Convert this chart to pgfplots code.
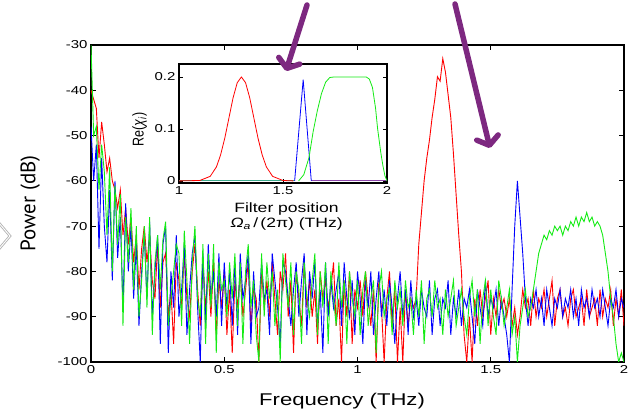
\documentclass[border=0pt]{standalone}
\usepackage{pgfplots}
\pgfplotsset{compat=1.18}
\usepackage{pgfplotstable}
\usepackage{graphicx}
\usepackage{fontspec}
\setmainfont{Liberation Sans}[FakeStretch=1.3]
\newfontfamily\ptsans{PT Sans}
\newfontfamily\plainsans{Liberation Sans}
\usetikzlibrary{arrows.meta}
\definecolor{mred}{rgb}{1,0,0}
\definecolor{mblue}{rgb}{0,0,1}
\definecolor{mgreen}{RGB}{20,235,20}
\definecolor{purp}{RGB}{125,40,128}
\definecolor{teal2}{RGB}{60,170,140}
\definecolor{purp2}{RGB}{140,70,170}

\pgfplotstableread{
x r b g
0.00 -40 -48 -30
0.01 -42 -60 -50
0.02 -44 -52 -48
0.03 -55 -75 -62
0.04 -47 -55 -52
0.05 -52 -70 -58
0.06 -58 -78 -72
0.07 -55 -62 -57
0.08 -60 -82 -80
0.09 -62 -60 -61
0.10 -66 -77 -74
0.11 -62 -68 -63
0.12 -72 -88 -92
0.13 -66 -65 -68
0.14 -74 -80 -78
0.15 -68 -70 -66
0.16 -78 -86 -84
0.17 -72 -74 -70
0.18 -84 -92 -90
0.19 -75 -80 -82
0.20 -70 -72 -70
0.21 -78 -86 -88
0.22 -72 -69 -68
0.23 -82 -90 -94
0.24 -86 -80 -78
0.25 -74 -72 -72
0.26 -88 -96 -84
0.27 -78 -74 -73
0.28 -76 -70 -69
0.29 -90 -98 -92
0.30 -84 -80 -86
0.31 -96 -88 -80
0.32 -78 -72 -74
0.33 -82 -90 -76
0.34 -88 -84 -92
0.35 -76 -74 -71
0.36 -86 -94 -82
0.37 -90 -84 -96
0.38 -80 -76 -78
0.39 -74 -72 -70
0.40 -84 -88 -86
0.41 -92 -100 -90
0.42 -78 -76 -74
0.43 -88 -92 -96
0.44 -80 -74 -76
0.45 -90 -86 -88
0.46 -78 -80 -74
0.47 -94 -90 -98
0.48 -82 -76 -78
0.49 -88 -92 -84
0.50 -80 -78 -82
0.51 -94 -88 -90
0.52 -84 -80 -78
0.53 -98 -92 -86
0.54 -82 -78 -76
0.55 -88 -94 -92
0.56 -80 -76 -78
0.57 -90 -86 -96
0.58 -84 -82 -80
0.59 -78 -76 -74
0.60 -92 -96 -88
0.61 -84 -80 -82
0.62 -86 -90 -94
0.63 -100 -88 -100
0.64 -80 -78 -76
0.65 -88 -86 -90
0.66 -82 -84 -78
0.67 -90 -94 -86
0.68 -78 -76 -80
0.69 -86 -82 -92
0.70 -94 -88 -84
0.71 -80 -96 -100
0.72 -84 -78 -76
0.73 -76 -80 -82
0.74 -90 -86 -88
0.75 -82 -92 -78
0.76 -98 -84 -94
0.77 -80 -78 -80
0.78 -86 -90 -84
0.79 -92 -82 -96
0.80 -78 -76 -78
0.81 -88 -94 -86
0.82 -82 -80 -90
0.83 -90 -86 -82
0.84 -84 -78 -76
0.85 -96 -92 -94
0.86 -80 -84 -80
0.87 -86 -98 -88
0.88 -82 -78 -78
0.89 -88 -90 -96
0.90 -84 -82 -80
0.91 -78 -88 -86
0.92 -92 -84 -92
0.93 -86 -80 -78
0.94 -100 -92 -88
0.95 -82 -78 -82
0.96 -90 -86 -96
0.97 -80 -90 -80
0.98 -96 -82 -86
0.99 -84 -94 -90
1.00 -88 -80 -82
1.01 -82 -86 -94
1.02 -90 -96 -84
1.03 -80 -82 -80
1.04 -86 -88 -92
1.05 -92 -80 -86
1.06 -84 -94 -82
1.07 -100 -86 -98
1.08 -82 -80 -84
1.09 -88 -90 -80
1.10 -100 -84 -90
1.11 -86 -92 -86
1.12 -80 -82 -84
1.13 -92 -88 -94
1.14 -84 -96 -82
1.15 -100 -86 -88
1.16 -88 -80 -84
1.17 -100 -90 -92
1.18 -84 -84 -82
1.19 -92 -94 -88
1.20 -86 -82 -86
1.21 -88 -90 -94
1.22 -86 -86 -84
1.23 -74 -92 -90
1.24 -67 -84 -82
1.25 -60 -88 -96
1.26 -55 -90 -86
1.27 -51 -82 -84
1.28 -46 -94 -90
1.29 -42 -86 -82
1.30 -37 -84 -88
1.31 -38 -92 -86
1.32 -33 -86 -94
1.33 -36 -88 -84
1.34 -41 -82 -90
1.35 -46 -94 -86
1.36 -54 -86 -82
1.37 -63 -90 -92
1.38 -72 -84 -88
1.39 -80 -92 -84
1.40 -94 -86 -90
1.41 -100 -88 -94
1.42 -90 -84 -86
1.43 -100 -90 -82
1.44 -86 -96 -90
1.45 -92 -84 -84
1.46 -84 -88 -96
1.47 -90 -92 -86
1.48 -86 -82 -82
1.49 -82 -90 -92
1.50 -94 -86 -84
1.51 -86 -88 -90
1.52 -90 -84 -94
1.53 -84 -92 -82
1.54 -88 -86 -86
1.55 -86 -90 -92
1.56 -90 -94 -88
1.57 -86 -100 -84
1.58 -92 -84 -94
1.59 -88 -70 -90
1.60 -94 -60 -100
1.61 -90 -68 -92
1.62 -84 -76 -88
1.63 -88 -86 -84
1.64 -86 -92 -90
1.65 -92 -86 -88
1.66 -84 -88 -84
1.67 -90 -84 -80
1.68 -86 -90 -76
1.69 -88 -86 -74
1.70 -84 -92 -72
1.71 -90 -84 -73
1.72 -86 -88 -71
1.73 -82 -92 -72
1.74 -92 -86 -70
1.75 -86 -88 -71
1.76 -84 -84 -70
1.77 -90 -90 -72
1.78 -88 -86 -70
1.79 -92 -88 -71
1.80 -86 -84 -69
1.81 -84 -90 -70
1.82 -90 -86 -68
1.83 -88 -92 -70
1.84 -86 -84 -68
1.85 -92 -88 -69
1.86 -84 -86 -67
1.87 -90 -90 -69
1.88 -88 -84 -68
1.89 -86 -88 -70
1.90 -92 -86 -69
1.91 -84 -90 -70
1.92 -90 -84 -72
1.93 -86 -88 -76
1.94 -88 -92 -80
1.95 -84 -86 -86
1.96 -92 -88 -90
1.97 -86 -84 -96
1.98 -90 -90 -100
1.99 -84 -86 -98
2.00 -92 -88 -100
}\spec

\pgfplotstableread{
x y
1.00 0
1.10 0.0008
1.15 0.0088
1.18 0.027
1.20 0.050
1.22 0.082
1.24 0.121
1.26 0.160
1.28 0.189
1.30 0.200
1.32 0.189
1.34 0.160
1.36 0.121
1.38 0.082
1.40 0.050
1.42 0.027
1.45 0.0088
1.50 0.0008
1.55 0
}\fred

\pgfplotstableread{
x y
1.556 0
1.597 0.195
1.636 0
}\fblue

\pgfplotstableread{
x y
1.575 0
1.600 0.012
1.625 0.045
1.645 0.095
1.665 0.135
1.685 0.168
1.705 0.190
1.725 0.199
1.745 0.200
1.900 0.200
1.915 0.196
1.930 0.180
1.945 0.140
1.955 0.100
1.970 0.055
1.980 0.030
1.990 0.010
2.000 0
}\fgreen

\begin{document}
\begin{tikzpicture}[x=1pt,y=1pt]
\path[use as bounding box] (0,0) rectangle (629,411);
\begin{axis}[
  at={(91pt,49pt)}, anchor=south west,
  scale only axis, width=533pt, height=317pt,
  xmin=0, xmax=2, ymin=-100, ymax=-30,
  xtick={0,0.5,1,1.5,2}, xticklabels={0,0.5,1,1.5,2},
  ytick={-100,-90,-80,-70,-60,-50,-40,-30},
  yticklabels={-100,-90,-80,-70,-60,-50,-40,-30},
  tick align=inside, major tick length=5pt,
  axis line style={line width=1.1pt},
  every tick/.style={black, line width=0.8pt},
  tick label style={font=\fontsize{11.5}{13}\selectfont},
  /pgf/number format/assume math mode=true,
  xlabel={Frequency (THz)},
  xlabel style={font=\fontsize{17}{20}\selectfont, at={(axis description cs:0.471,-0.136)}, anchor=base},
  ylabel={Power (dB)},
  ylabel style={font=\ptsans\fontsize{21}{24}\selectfont, at={(axis description cs:-0.114,0.5)}, anchor=center},
  clip=true,
]
\addplot[mred, line width=0.9pt] table[x=x, y=r] {\spec};
\addplot[mblue, line width=0.9pt] table[x=x, y=b] {\spec};
\addplot[mgreen, line width=0.9pt] table[x=x, y=g] {\spec};
\end{axis}

\begin{axis}[
  at={(179pt,228pt)}, anchor=south west,
  scale only axis, width=208pt, height=119pt,
  xmin=1, xmax=2, ymin=-0.004, ymax=0.225,
  xtick={1,1.5,2}, xticklabels={1,1.5,2},
  ytick={0,0.1,0.2}, yticklabels={0,0.1,0.2},
  tick align=inside, major tick length=4pt,
  axis background/.style={fill=white},
  axis line style={line width=1.1pt},
  every tick/.style={black, line width=0.7pt},
  tick label style={font=\fontsize{11.5}{13}\selectfont},
  /pgf/number format/assume math mode=true,
  xlabel={Filter position\\\textit{Ω}\textsubscript{\itshape a}\,/\,(2π) (THz)},
  xlabel style={font=\fontsize{13.5}{15}\selectfont, at={(axis description cs:0.517,-0.135)}, anchor=north, align=center},
  ylabel={\scalebox{1}[1.25]{\plainsans\fontsize{12.5}{14}\selectfont Re(\textit{χ}\textsubscript{\itshape i})}},
  ylabel style={at={(axis description cs:-0.19,0.45)}, anchor=center},
]
\addplot[teal2, line width=1pt] coordinates {(1,0.001) (1.556,0.001)};
\addplot[purp2, line width=1pt] coordinates {(1.636,0.001) (2,0.001)};
\addplot[mred, line width=0.8pt] table[x=x, y=y] {\fred};
\addplot[mblue, line width=0.8pt] table[x=x, y=y] {\fblue};
\addplot[mgreen, line width=0.8pt] table[x=x, y=y] {\fgreen};
\end{axis}

\draw[purp, line width=5.5pt, line cap=round, -{Straight Barb[length=8pt,width=22pt,round]}] (307,406) -- (286,340);
\draw[purp, line width=5.5pt, line cap=round, -{Straight Barb[length=8pt,width=22pt,round]}] (455,407) -- (490,263);
\draw[gray!60, line width=2.6pt, line join=miter] (-1,188) -- (10,175) -- (-1,162);
\draw[white, line width=0.9pt, line join=miter] (-1,188) -- (10,175) -- (-1,162);
\end{tikzpicture}
\end{document}
